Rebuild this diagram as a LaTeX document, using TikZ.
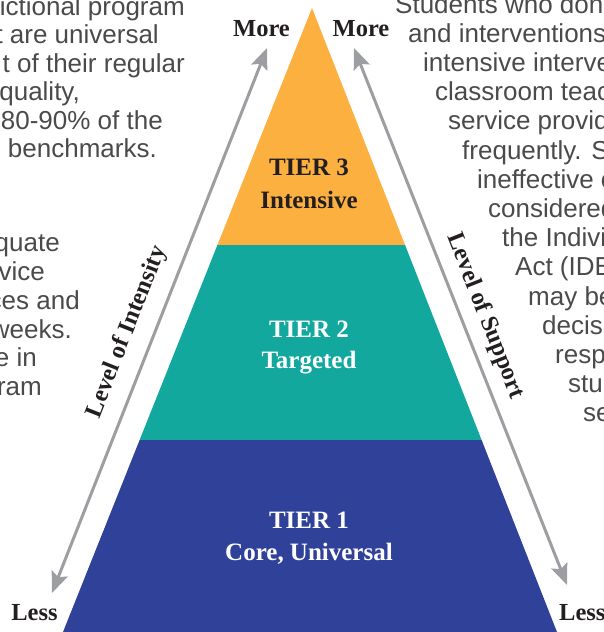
\documentclass[tikz,border=0pt]{standalone}
\usepackage{fontspec}
\setmainfont{Liberation Serif}
\newfontfamily\blurbfont{Liberation Sans}
\usetikzlibrary{arrows.meta,calc}

\definecolor{tierthree}{HTML}{FBB040}
\definecolor{tiertwo}{HTML}{12A89D}
\definecolor{tierone}{HTML}{2F4199}
\definecolor{scalegray}{HTML}{9C9EA1}
\definecolor{blurbgray}{HTML}{4A4A4C}
\definecolor{labelink}{HTML}{231F20}

\begin{document}
\begin{tikzpicture}[x=1pt,y=-1pt,
  tierlabel/.style={font=\fontsize{25}{30}\selectfont\bfseries, anchor=base, inner sep=0pt},
  scalelabel/.style={font=\fontsize{24.5}{30}\selectfont\bfseries, text=labelink, inner sep=0pt},
  scalearrow/.style={draw=scalegray, line width=3pt,
    {Stealth[length=21pt,width=17pt,inset=4pt]}-{Stealth[length=21pt,width=17pt,inset=4pt]}},
  blurb/.style={font=\blurbfont\fontsize{26}{29}\selectfont, text=blurbgray, inner sep=0pt},
]
\useasboundingbox (0,0) rectangle (603,632);
\clip (0,0) rectangle (603,632);

% side paragraphs, running past the page edges
\foreach \t/\x/\y [count=\i] in {
  {ictional program}/185/15,
  {t are universal}/159/43.5,
  {t of their regular}/185/72,
  {quality,}/80/100.5,
  {80-90\% of the}/163/129,
  {benchmarks.}/157/157.5,
  {quate}/60/251,
  {vice}/45/280,
  {ces and}/80/309,
  {weeks.}/72/338,
  {e in}/37/366,
  {ram}/42/395}
  \node[blurb, anchor=base east] (leftline\i) at (\x,\y) {\t};

\foreach \t/\x/\y [count=\i] in {
  {Students who don}/395/13,
  {and interventions}/408/42.2,
  {intensive interve}/423/71.4,
  {classroom teac}/435/100.6,
  {service provid}/448/129.8,
  {frequently. S}/462/159,
  {ineffective o}/477/188.2,
  {considered}/488/217.4,
  {the Indivi}/502/246.6,
  {Act (IDE}/515/275.8,
  {may be}/528/305,
  {decis}/542/334.2,
  {resp}/555/363.4,
  {stu}/568/392.6,
  {se}/583/421.8}
  \node[blurb, anchor=base west] (rightline\i) at (\x,\y) {\t};

% pyramid with three tiers
\coordinate (apex) at (312,8);
\coordinate (baseL) at (63,632);
\coordinate (baseR) at (557,632);
\coordinate (t3L) at ($(apex)!0.3798!(baseL)$);
\coordinate (t3R) at ($(apex)!0.3798!(baseR)$);
\coordinate (t2L) at ($(apex)!0.6923!(baseL)$);
\coordinate (t2R) at ($(apex)!0.6923!(baseR)$);

\fill[tierthree] (apex) -- (t3R) -- (t3L) -- cycle;
\fill[tiertwo] (t3L) -- (t3R) -- (t2R) -- (t2L) -- cycle;
\fill[tierone] (t2L) -- (t2R) -- (baseR) -- (baseL) -- cycle;

\node[tierlabel, text=labelink] (tier3) at (309,175) {TIER 3};
\node[tierlabel, text=labelink] (tier3name) at (309,208) {Intensive};
\node[tierlabel, text=white] (tier2) at (309,337) {TIER 2};
\node[tierlabel, text=white] (tier2name) at (309,368) {Targeted};
\node[tierlabel, text=white] (tier1) at (309,528) {TIER 1};
\node[tierlabel, text=white] (tier1name) at (309,560) {Core, Universal};

% scales on both sides
\coordinate (intensityHigh) at (267,48);
\coordinate (intensityLow) at (52,593);
\coordinate (supportHigh) at (354,48);
\coordinate (supportLow) at (567,585);
\draw[scalearrow] (intensityLow) -- (intensityHigh);
\draw[scalearrow] (supportHigh) -- (supportLow);

\node[scalelabel, anchor=base] (moreL) at (261.5,36) {More};
\node[scalelabel, anchor=base] (moreR) at (361,36) {More};
\node[scalelabel, anchor=base] (lessL) at (34.5,620) {Less};
\node[scalelabel, anchor=base west] (lessR) at (559,620) {Less};

\node[scalelabel, rotate=68.5] (intensity) at (127,332) {Level of Intensity};
\node[scalelabel, rotate=-68.5] (support) at (485,316) {Level of Support};
\end{tikzpicture}
\end{document}
